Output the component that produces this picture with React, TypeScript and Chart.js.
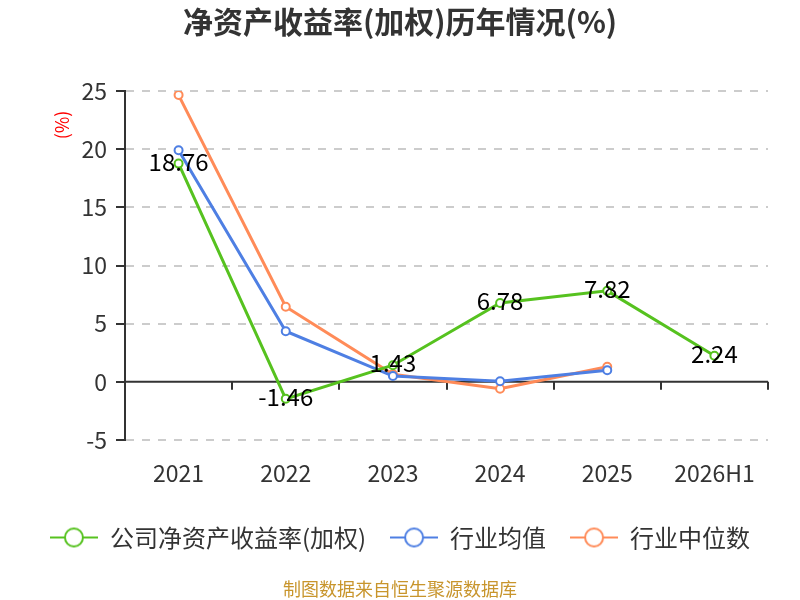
import React, { useEffect, useRef } from "react";
import { Chart, registerables } from "chart.js";

Chart.register(...registerables);

const categories = ["2021", "2022", "2023", "2024", "2025", "2026H1"];
const companyRoe = [18.76, -1.46, 1.43, 6.78, 7.82, 2.24];
const industryAvg = [19.9, 4.35, 0.5, 0.05, 1.0, null];
const industryMedian = [24.65, 6.45, 0.65, -0.6, 1.3, null];
const seriesNames = ["公司净资产收益率(加权)", "行业均值", "行业中位数"];
const yTicks = [-5, 0, 5, 10, 15, 20, 25];

const GREEN = "#56c21f";
const BLUE = "#4e7fe3";
const ORANGE = "#ff8b58";
const FONT = "'Noto Sans CJK SC', 'Noto Sans', sans-serif";

// 图例符号: 线 + 空心圆
function legendIcon(color: string) {
  const c = document.createElement("canvas");
  c.width = 48;
  c.height = 24;
  const g = c.getContext("2d")!;
  g.strokeStyle = color;
  g.lineWidth = 2;
  g.beginPath();
  g.moveTo(0, 12);
  g.lineTo(48, 12);
  g.stroke();
  g.fillStyle = "#fff";
  g.beginPath();
  g.arc(24, 12, 9, 0, Math.PI * 2);
  g.fill();
  g.stroke();
  return c;
}

const extras = {
  id: "extras",
  beforeDatasetsDraw(chart: any) {
    const { ctx, chartArea, scales } = chart;
    const y0 = scales.y.getPixelForValue(0);
    ctx.save();
    ctx.strokeStyle = "#333";
    ctx.lineWidth = 2;
    ctx.beginPath();
    ctx.moveTo(chartArea.left, y0);
    ctx.lineTo(chartArea.right, y0);
    for (let i = 1; i <= categories.length; i++) {
      const x = Math.round(scales.x.getPixelForValue(i - 0.5));
      ctx.moveTo(x, y0);
      ctx.lineTo(x, y0 + 8);
    }
    ctx.stroke();
    // y 轴标题
    ctx.translate(62, 125);
    ctx.rotate(-Math.PI / 2);
    ctx.fillStyle = "#ff0000";
    ctx.font = `18px ${FONT}`;
    ctx.textAlign = "center";
    ctx.textBaseline = "middle";
    ctx.fillText("(%)", 0, 0);
    ctx.restore();
  },
  afterDatasetsDraw(chart: any) {
    const { ctx } = chart;
    const meta = chart.getDatasetMeta(0);
    ctx.save();
    ctx.fillStyle = "#000";
    ctx.font = `24px ${FONT}`;
    ctx.textAlign = "center";
    ctx.textBaseline = "middle";
    meta.data.forEach((pt: any, i: number) => {
      ctx.fillText(String(companyRoe[i]), pt.x, pt.y - 2);
    });
    ctx.restore();
  },
};

const App: React.FC = () => {
  const canvasRef = useRef<HTMLCanvasElement | null>(null);
  const chartRef = useRef<Chart | null>(null);

  useEffect(() => {
    document.body.style.margin = "0";
    if (!canvasRef.current) return;
    const icons = [legendIcon(GREEN), legendIcon(BLUE), legendIcon(ORANGE)];
    const mk = (label: string, data: (number | null)[], color: string) => ({
      label,
      data,
      borderColor: color,
      backgroundColor: color,
      borderWidth: 3,
      pointRadius: 4,
      pointBorderWidth: 2,
      pointBackgroundColor: "#fff",
      pointBorderColor: color,
      tension: 0,
      spanGaps: false,
    });

    chartRef.current = new Chart(canvasRef.current, {
      type: "line",
      data: {
        labels: categories,
        datasets: [
          mk(seriesNames[0], companyRoe, GREEN),
          mk(seriesNames[1], industryAvg, BLUE),
          mk(seriesNames[2], industryMedian, ORANGE),
        ],
      },
      options: {
        animation: false,
        responsive: false,
        devicePixelRatio: 1,
        layout: { padding: 0 },
        scales: {
          x: {
            offset: true,
            grid: { display: false },
            border: { display: false },
            ticks: { color: "#333", font: { family: FONT, size: 23 }, padding: 11 },
            afterFit: (s: any) => {
              s.height = 61.5;
            },
          },
          y: {
            min: -5,
            max: 25,
            afterBuildTicks: (s: any) => {
              s.ticks = yTicks.map((v) => ({ value: v }));
            },
            grid: {
              color: (c: any) => (c.tick && c.tick.value === 0 ? "rgba(0,0,0,0)" : "#cccccc"),
              lineWidth: 2,
              tickColor: "#333",
              tickWidth: 2,
              tickLength: 9,
            },
            border: { display: true, color: "#333", width: 2, dash: [8, 8] },
            ticks: { color: "#333", font: { family: FONT, size: 23 }, padding: 9 },
            afterFit: (s: any) => {
              s.width = 125;
            },
          },
          // 右侧留白
          yRight: {
            position: "right",
            min: 0,
            max: 1,
            grid: { display: false },
            border: { display: false },
            ticks: { display: false },
            afterFit: (s: any) => {
              s.width = 32;
            },
          },
        },
        plugins: {
          title: {
            display: true,
            text: "净资产收益率(加权)历年情况(%)",
            color: "#333",
            font: { family: FONT, size: 30, weight: "bold" },
            padding: { top: 4, bottom: 51 },
          },
          legend: {
            position: "bottom",
            labels: {
              usePointStyle: true,
              pointStyleWidth: 48,
              padding: 24,
              color: "#333",
              font: { family: FONT, size: 24 },
              generateLabels: (chart: any) =>
                Chart.defaults.plugins.legend.labels.generateLabels(chart).map((l: any, i: number) => ({
                  ...l,
                  pointStyle: icons[i],
                })),
            },
          },
          subtitle: {
            display: true,
            position: "bottom",
            text: "制图数据来自恒生聚源数据库",
            color: "#c8952c",
            font: { family: FONT, size: 18 },
            padding: { top: 18.7, bottom: 0.2 },
          },
          tooltip: { enabled: false },
        },
      },
      plugins: [extras],
    });

    return () => {
      chartRef.current?.destroy();
      chartRef.current = null;
    };
  }, []);

  return (
    <div style={{ width: 800, height: 600 }}>
      <canvas ref={canvasRef} width={800} height={600} />
    </div>
  );
};

export default App;
